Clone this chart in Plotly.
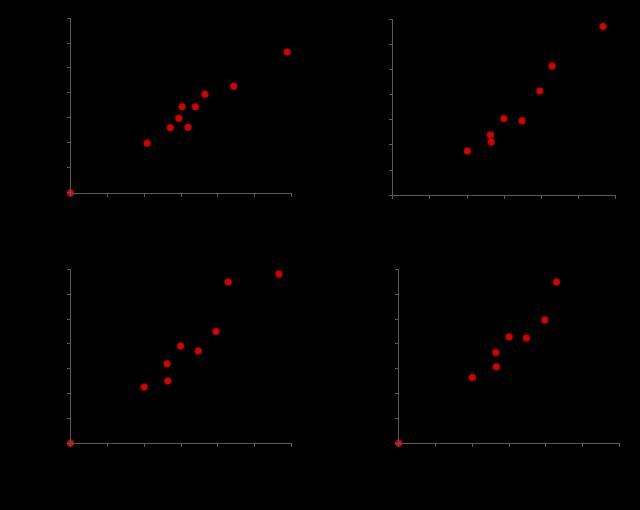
import plotly.graph_objects as go

# datos (sin etiquetas en los ejes)
x1 = [0, 2.08, 2.71, 2.94, 3.19, 3.03, 3.39, 3.65, 4.43, 5.88]
y1 = [0, 1.99, 2.61, 2.99, 2.63, 3.45, 3.45, 3.95, 4.27, 5.64]

x2 = [2.01, 2.63, 2.65, 2.99, 3.48, 3.96, 4.29, 5.66]
y2 = [1.76, 2.40, 2.12, 3.05, 2.96, 4.15, 5.14, 6.71]

x3 = [0, 2.00, 2.62, 2.64, 2.99, 3.47, 3.95, 4.28, 5.66]
y3 = [0, 2.26, 3.20, 2.51, 3.91, 3.71, 4.50, 6.49, 6.81]

x4 = [0, 2.00, 2.64, 2.65, 3.00, 3.47, 3.97, 4.29]
y4 = [0, 2.65, 3.65, 3.08, 4.28, 4.24, 4.96, 6.49]

series = [(x1, y1), (x2, y2), (x3, y3), (x4, y4)]

# dominios de cada panel (fraccion del papel)
domains = [
    ([0.1102, 0.4555], [0.6216, 0.9647]),
    ([0.6136, 0.9620], [0.6171, 0.9622]),
    ([0.1102, 0.4555], [0.1308, 0.4720]),
    ([0.6231, 0.9680], [0.1308, 0.4720]),
]

fig = go.Figure()
axis_style = dict(
    showgrid=False, zeroline=False, showline=True,
    linecolor='#5a5a5a', linewidth=1,
    ticks='outside', ticklen=3, tickcolor='#5a5a5a',
    showticklabels=False, dtick=1,
)

layout = {}
for i, ((xs, ys), (dx, dy)) in enumerate(zip(series, domains), start=1):
    sfx = '' if i == 1 else str(i)
    fig.add_trace(go.Scatter(
        x=xs, y=ys, mode='markers',
        xaxis='x' + sfx, yaxis='y' + sfx,
        cliponaxis=False,
        marker=dict(color='#d40000', size=7,
                    line=dict(color='#a00000', width=0.5)),
        showlegend=False,
    ))
    layout['xaxis' + sfx] = dict(axis_style, domain=dx, range=[0, 6],
                                 anchor='y' + sfx)
    layout['yaxis' + sfx] = dict(axis_style, domain=dy, range=[0, 7],
                                 anchor='x' + sfx)

fig.update_layout(
    width=640, height=510,
    margin=dict(l=0, r=0, t=0, b=0),
    paper_bgcolor='black', plot_bgcolor='black',
    **layout
)

# quitar el margen blanco del body
fig.write_html("out.html", config={'displayModeBar': False}, post_script=(
    "document.body.style.margin='0';"
    "document.body.style.background='black';"
))
